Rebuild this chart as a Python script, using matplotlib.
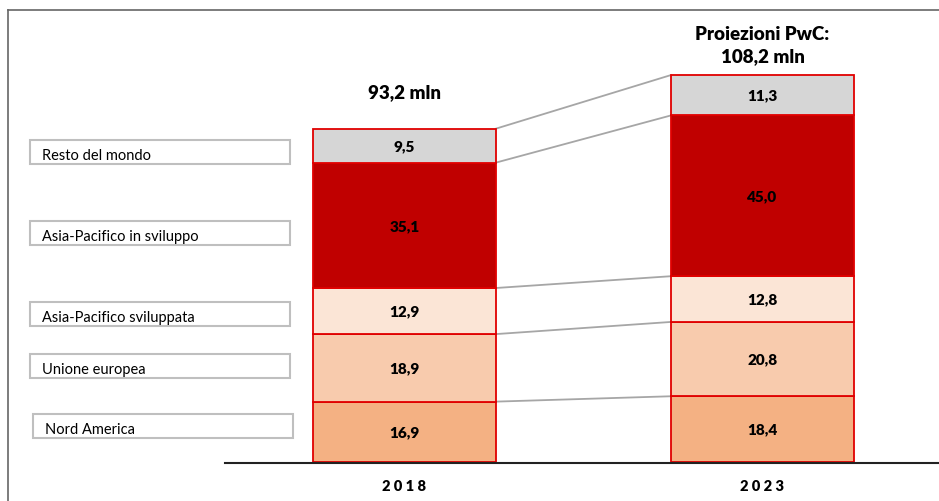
import matplotlib.pyplot as plt
from matplotlib.patches import Rectangle
from matplotlib.lines import Line2D

plt.rcParams['font.family'] = ['Lato', 'DejaVu Sans']

# data
years = ['2018', '2023']
regions = ['Nord America', 'Unione europea', 'Asia-Pacifico sviluppata',
           'Asia-Pacifico in sviluppo', 'Resto del mondo']
values_2018 = [16.9, 18.9, 12.9, 35.1, 9.5]
values_2023 = [18.4, 20.8, 12.8, 45.0, 11.3]
totals = ['93,2 mln', 'Proiezioni PwC:\n108,2 mln']
colors = ['#F4B183', '#F8CBAD', '#FBE5D6', '#C00000', '#D6D6D6']

W, H = 939, 502
fig = plt.figure(figsize=(W / 100, H / 100), dpi=100)
ax = fig.add_axes([0, 0, 1, 1])

px_per_unit = 333 / 93.2
y0_px = 463
ax.set_ylim(-(H - y0_px) / px_per_unit, y0_px / px_per_unit)
xsep = 358.0
ax.set_xlim(-404.5 / xsep, 1 + (W - 762.5) / xsep)
ax.axis('off')

bw = 183 / xsep
series = [values_2018, values_2023]
for i, vals in enumerate(series):
    bottom = 0
    for v, c in zip(vals, colors):
        ax.bar(i, v, bottom=bottom, width=bw, color=c, edgecolor='#E00000',
               linewidth=1.3, zorder=3)
        ax.text(i, bottom + v / 2, f'{v:.1f}'.replace('.', ','), ha='center',
                va='center', fontsize=11, fontweight='heavy', zorder=4)
        bottom += v

# connector lines between segment tops
c18 = c23 = 0
for a, b in zip(values_2018, values_2023):
    c18 += a
    c23 += b
    ax.plot([bw / 2, 1 - bw / 2], [c18, c23], color='#A6A6A6', lw=1.3, zorder=2)

# totals above bars
ax.text(0, sum(values_2018) + 10.5, totals[0], ha='center', va='center',
        fontsize=13.5, fontweight='heavy')
ax.text(1, sum(values_2023) + 8.5, totals[1], ha='center', va='center',
        fontsize=13.5, fontweight='heavy', linespacing=1.35)

# year labels (spaced out like the original)
for i, y in enumerate(years):
    ax.text(i, -24 / px_per_unit, ' '.join(y), ha='center',
            va='center', fontsize=10.5, fontweight='heavy')

# baseline
ax.add_line(Line2D([225 / W, 1], [1 - 464 / H, 1 - 464 / H],
                   transform=fig.transFigure, color='#222222', lw=1.5, zorder=5))

# frame (top and left)
ax.add_line(Line2D([8 / W, 1], [1 - 11 / H, 1 - 11 / H],
                   transform=fig.transFigure, color='#666666', lw=1.2))
ax.add_line(Line2D([8 / W, 8 / W], [0, 1 - 11 / H],
                   transform=fig.transFigure, color='#666666', lw=1.2))

# label boxes (pixel layout)
boxes = [(33, 415), (30, 355), (30, 303), (30, 222), (30, 141)]
for (bx, by), name in zip(boxes, regions):
    fig.patches.append(Rectangle((bx / W, 1 - (by + 24) / H), 260 / W, 24 / H,
                                 transform=fig.transFigure, fill=False,
                                 edgecolor='#BFBFBF', lw=1.5))
    fig.text((bx + 12) / W, 1 - (by + 15) / H, name, ha='left', va='center',
             fontsize=10.5)

fig.savefig('out.png', dpi=100)
